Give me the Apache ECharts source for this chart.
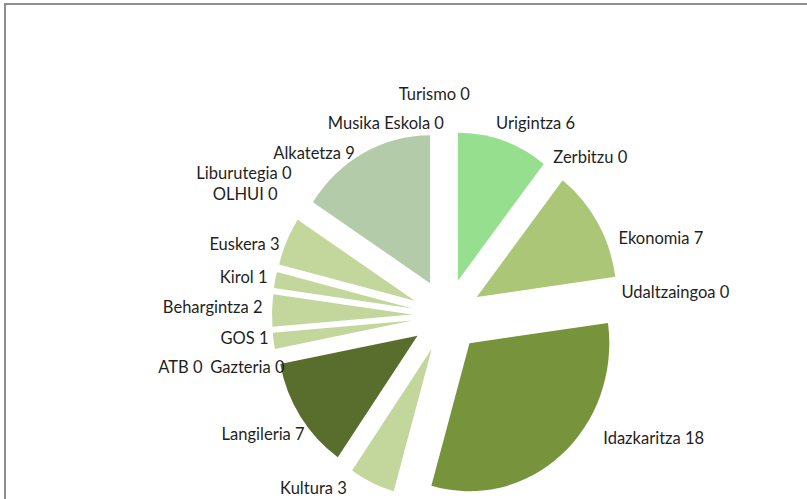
<!DOCTYPE html>
<html><head><meta charset="utf-8">
<script src="https://cdn.jsdelivr.net/npm/echarts@6/dist/echarts.min.js"></script>
<style>
html,body{margin:0;padding:0;background:#fff;overflow:hidden;width:807px;height:499px}
#frame{position:absolute;left:4px;top:3px;width:830px;height:530px;border-left:2px solid #8e8e8e;border-top:2px solid #8e8e8e}
#c{position:absolute;left:0;top:0;width:854px;height:499px;transform:scaleX(0.945);transform-origin:0 0}
</style>
</head><body><div id="frame"></div><div id="c"></div>
<script>
const categories = ["Urigintza","Zerbitzu","Ekonomia","Udaltzaingoa","Idazkaritza","Kultura","Langileria","Gazteria","ATB","GOS","Behargintza","Kirol","Euskera","OLHUI","Liburutegia","Alkatetza","Musika Eskola","Turismo"];
const values = [6,0,7,0,18,3,7,0,0,1,2,1,3,0,0,9,0,0];
const colors = ["#95df8f","#b9d08c","#abc676","#9bb865","#77943c","#c3d69b","#596d2d","#8aa653","#a7c07a","#c3d69b","#c3d69b","#c3d69b","#c3d69b","#c3d69b","#c3d69b","#b3cba8","#b3cba8","#b3cba8"];
// label nudges (dx, dy) away from the library's default outside position
const labelDx = [-17.8,-15.4,2.9,-18.8,28.9,-14.9,22.9,30.6,-56.2,15.5,10.9,12.6,12.1,-5.7,9.1,3.4,2.2,29.7];
const labelDy = [-3.4,-0.7,22.4,3.7,-29.8,-10,7.6,12.8,12.8,-5.3,-3.3,-0.4,8.6,-12.2,-33.2,13.4,7.5,-21.5];

const chart = echarts.init(document.getElementById('c'), null, {renderer:'svg'});
chart.setOption({
  animation:false,
  series:[{
    type:'pie',
    center:[472.6,315.5],
    radius:148,
    startAngle:90,
    clockwise:true,
    selectedMode:'multiple',
    selectedOffset:36.8,
    avoidLabelOverlap:false,
    emphasis:{disabled:true},
    label:{show:true,position:'outside',formatter:'{b} {c}',fontFamily:'Lato, "Liberation Sans", sans-serif',fontSize:17.5,color:'#1f1f1f'},
    labelLine:{show:false,length:16,length2:0},
    labelLayout:function(p){return {dx:labelDx[p.dataIndex],dy:labelDy[p.dataIndex]};},
    itemStyle:{borderWidth:0},
    data:categories.map((n,i)=>({name:n,value:values[i],selected:true,itemStyle:{color:colors[i]}}))
  }]
});
</script></body></html>
